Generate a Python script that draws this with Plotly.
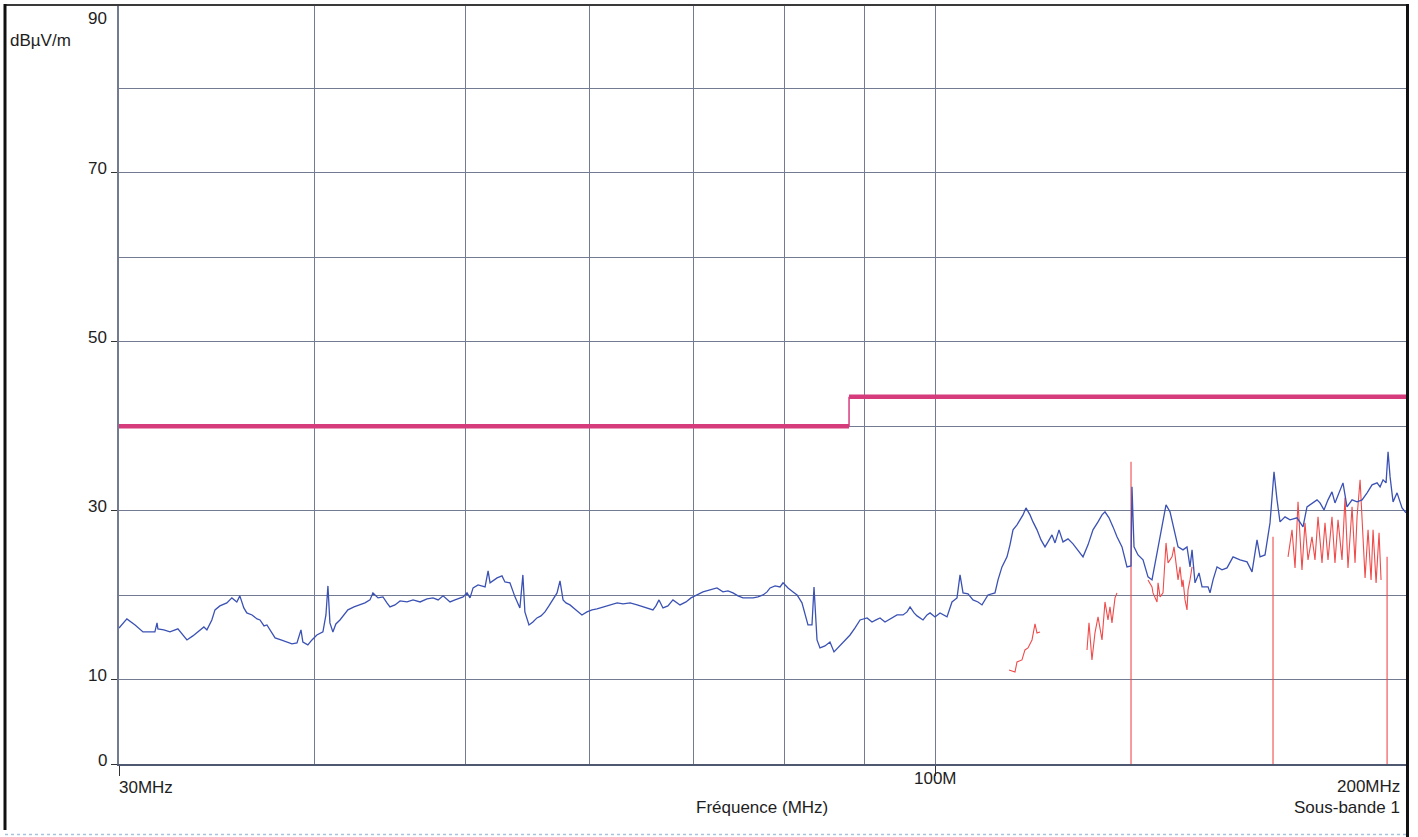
import math
import plotly.graph_objects as go

# ---------------- data ----------------
# Peak trace (blue): frequency in MHz, level in dBuV/m
peak_freq = [30.00, 30.35, 30.72, 31.08, 31.40, 31.63, 31.73, 31.77, 32.05, 32.34, 32.72, 33.16, 33.45, 33.80,
             34.00, 34.15, 34.40, 34.56, 34.81, 35.17, 35.43, 35.69, 35.85, 36.06, 36.22, 36.50, 36.77, 36.93,
             37.15, 37.31, 37.59, 37.76, 38.09, 38.43, 38.71, 39.00, 39.23, 39.34, 39.63, 39.87, 40.16, 40.52,
             40.70, 40.82, 40.94, 41.12, 41.30, 41.55, 41.80, 42.04, 42.42, 42.80, 43.11, 43.43, 43.62, 43.95,
             44.27, 44.53, 44.73, 45.06, 45.40, 45.87, 46.28, 46.76, 47.24, 47.66, 48.02, 48.37, 48.87, 49.23,
             49.60, 49.82, 50.11, 50.33, 50.56, 50.93, 51.46, 51.69, 51.84, 52.38, 52.76, 52.99, 53.38, 53.78,
             54.17, 54.41, 54.57, 54.90, 55.22, 55.55, 55.88, 56.21, 56.54, 56.88, 57.22, 57.47, 57.73, 57.98,
             58.32, 58.84, 59.36, 59.80, 60.25, 60.69, 61.24, 61.87, 62.52, 63.07, 63.73, 64.39, 64.96, 65.44,
             65.91, 66.20, 66.50, 66.89, 67.38, 67.88, 68.28, 68.59, 69.20, 69.71, 70.33, 70.95, 71.69, 72.43,
             73.07, 73.62, 74.16, 74.71, 75.26, 75.82, 76.39, 76.95, 77.52, 77.98, 78.33, 78.91, 79.49, 79.84,
             80.43, 81.03, 81.51, 82.10, 82.47, 82.83, 83.32, 83.57, 83.94, 84.31, 84.93, 85.56, 86.07, 86.83,
             87.47, 88.13, 88.78, 89.44, 90.37, 91.03, 91.57, 92.11, 92.79, 93.48, 94.45, 95.29, 95.85, 96.28,
             96.85, 97.28, 98.14, 98.72, 99.16, 99.89, 100.63, 101.67, 102.42, 103.18, 103.64, 104.10, 104.87,
             105.64, 106.42, 107.05, 107.53, 108.00, 109.12, 109.61, 110.25, 111.07, 111.56, 112.06, 112.72,
             113.22, 113.72, 114.22, 114.90, 115.41, 116.09, 116.78, 117.47, 117.99, 118.69, 119.22, 119.92,
             120.63, 121.52, 122.42, 123.33, 124.24, 125.16, 126.08, 127.02, 127.77, 128.33, 129.09, 129.86,
             130.62, 131.59, 132.56, 133.35, 133.54, 133.94, 134.73, 135.73, 136.73, 137.54, 138.56, 139.38,
             140.41, 141.24, 142.08, 142.92, 143.97, 144.82, 145.47, 145.90, 146.54, 147.41, 148.07, 149.38,
             149.82, 150.49, 151.37, 152.49, 153.62, 154.99, 156.60, 158.22, 159.39, 160.57, 161.28, 162.47,
             163.67, 164.64, 165.37, 166.10, 167.33, 168.57, 170.32, 171.83, 172.84, 174.12, 175.41, 176.19,
             177.23, 178.28, 179.33, 180.12, 181.46, 182.26, 183.34, 184.71, 186.08, 187.46, 188.85, 190.24,
             191.65, 192.50, 193.35, 194.21, 194.78, 195.36, 196.22, 197.38, 198.84, 200.00]
peak_level = [16.11, 17.18, 16.47, 15.64, 15.64, 15.64, 16.71, 16.00, 15.88, 15.64, 16.00, 14.69, 15.17, 15.88,
              16.23, 15.88, 17.06, 18.25, 18.72, 19.08, 19.67, 19.19, 19.91, 18.48, 17.89, 17.65, 17.18, 17.06,
              16.35, 16.47, 15.40, 14.93, 14.69, 14.45, 14.22, 14.34, 15.88, 14.45, 14.10, 14.69, 15.28, 15.64,
              17.65, 21.09, 16.71, 15.64, 16.59, 17.06, 17.65, 18.25, 18.60, 18.84, 19.08, 19.43, 20.26, 19.67,
              19.79, 19.08, 18.60, 18.84, 19.31, 19.19, 19.43, 19.19, 19.55, 19.67, 19.43, 19.91, 19.19, 19.43,
              19.67, 19.79, 20.26, 19.67, 20.85, 21.21, 20.97, 22.87, 21.45, 22.04, 22.27, 21.56, 21.45, 19.79,
              18.48, 22.39, 18.01, 16.47, 16.82, 17.30, 17.54, 18.01, 18.72, 19.43, 20.26, 21.68, 19.43, 19.08,
              18.84, 18.25, 17.65, 18.01, 18.25, 18.36, 18.60, 18.84, 19.08, 18.96, 19.08, 18.84, 18.60, 18.36,
              18.25, 18.72, 19.43, 18.48, 18.72, 19.43, 19.08, 18.84, 19.19, 19.67, 20.02, 20.38, 20.62, 20.85,
              20.38, 20.50, 20.26, 19.91, 19.67, 19.67, 19.67, 19.79, 20.02, 20.38, 20.85, 21.09, 20.97, 21.45,
              20.85, 20.38, 20.02, 19.08, 17.89, 16.47, 16.47, 20.97, 14.69, 13.74, 13.98, 14.45, 13.27, 13.98,
              14.69, 15.28, 16.11, 17.06, 17.30, 16.82, 17.06, 17.30, 16.82, 17.18, 17.65, 17.65, 18.01, 18.60,
              17.89, 17.54, 17.06, 17.65, 17.89, 17.42, 17.89, 17.42, 19.19, 19.67, 22.39, 20.26, 20.14,
              19.43, 19.19, 18.84, 19.43, 20.02, 20.26, 21.80, 23.34, 24.53, 25.95, 27.73, 28.32,
              28.91, 29.50, 30.33, 29.50, 28.67, 27.73, 26.54, 25.71, 26.30, 27.13, 26.18, 27.73,
              26.30, 26.66, 26.07, 25.36, 24.53, 25.95, 27.73, 28.67, 29.50, 29.86, 29.15, 28.08,
              26.90, 25.71, 23.34, 23.46, 32.82, 25.71, 24.76, 24.17, 22.16, 21.80, 25.00, 27.73,
              30.69, 29.86, 27.73, 25.71, 25.36, 25.71, 23.34, 25.36, 21.45, 22.63, 20.97, 20.97,
              20.26, 21.80, 23.34, 22.99, 23.22, 24.53, 24.17, 23.93, 22.75, 26.54, 24.53, 24.76,
              28.55, 34.60, 31.28, 28.67, 29.27, 28.91, 29.15, 28.08, 30.45, 30.92, 31.28, 30.92,
              30.09, 31.28, 32.23, 30.92, 32.46, 33.29, 30.45, 31.28, 31.04, 31.28, 32.11, 33.06,
              33.29, 32.82, 33.65, 33.29, 36.97, 34.00, 31.04, 32.11, 30.33, 29.74]

# Quasi-peak measurement segments (red)
qp1_freq = [111.40, 112.39, 112.72, 113.55, 114.05, 114.56, 115.24, 115.75, 116.09, 116.61]
qp1_level = [11.14, 10.90, 12.09, 12.32, 13.51, 13.74, 14.69, 16.59, 15.52, 15.64]
qp2_freq = [124.97, 125.34, 125.89, 126.45, 127.02, 127.77, 128.33, 128.90, 129.28, 129.66, 130.24, 130.62]
qp2_level = [13.51, 16.71, 12.32, 15.52, 17.42, 14.69, 19.19, 17.06, 18.60, 16.71, 19.67, 20.26]
qp3_freq = [136.73, 137.54, 137.74, 138.56, 138.77, 139.18, 139.79, 140.41, 140.83, 141.66, 142.08, 142.71,
            142.92, 143.34, 143.76, 143.97, 144.40, 144.82, 145.04, 145.47, 145.90]
qp3_level = [21.80, 20.97, 20.26, 19.19, 21.45, 19.79, 20.26, 26.18, 23.82, 24.53, 25.71, 22.99,
             21.80, 23.34, 20.97, 21.80, 19.43, 18.25, 20.62, 21.80, 23.34]
qp4_freq = [168.08, 169.07, 169.82, 170.57, 171.57, 172.33, 173.10, 174.12, 174.89, 175.67, 176.71, 177.49,
            178.28, 179.33, 180.12, 180.93, 182.00, 182.80, 183.61, 184.71, 185.53, 186.08, 186.91, 187.46,
            188.29, 189.12, 189.96, 190.52, 191.37, 192.21, 192.78]
qp4_level = [24.53, 27.73, 23.22, 31.04, 22.99, 28.55, 24.17, 26.90, 24.17, 29.27, 23.82, 28.55,
             24.17, 29.27, 23.82, 28.91, 24.17, 31.52, 23.22, 30.45, 23.82, 29.27, 33.65, 28.55,
             22.04, 27.73, 21.80, 27.73, 21.45, 27.37, 21.80]

# Discrete markers drawn as vertical lines from 0
spike_freq = [133.35, 164.40, 194.50]
spike_level = [35.78, 26.90, 24.53]

# Limit line (CISPR class B, 10 m)
limit_freq = [30, 88, 200]
limit_level = [40.0, 43.5]

x_tick_vals = [30, 100, 200]
x_tick_text = ["30MHz", "100M", "200MHz"]
x_grid_vals = [40, 50, 60, 70, 80, 90]
y_tick_vals = [0, 10, 30, 50, 70, 90]
y_grid_vals = [20, 40, 60, 80]

# ---------------- figure ----------------
FONT = "Liberation Sans, Arial, sans-serif"
GRID = "#727b92"
BLUE = "#3b52b4"
RED = "#f04b4b"
PINK = "#d63b7c"

fig = go.Figure()

# limit line: thick horizontal segments + thin step
fig.add_trace(go.Scatter(
    x=[limit_freq[0], limit_freq[1], None, limit_freq[1], limit_freq[2]],
    y=[limit_level[0], limit_level[0], None, limit_level[1], limit_level[1]],
    mode="lines", line=dict(color=PINK, width=4.5), hoverinfo="skip", showlegend=False))
fig.add_trace(go.Scatter(
    x=[limit_freq[1], limit_freq[1]], y=[limit_level[0], limit_level[1]],
    mode="lines", line=dict(color=PINK, width=1.5), hoverinfo="skip", showlegend=False))

# red QP segments
qx, qy = [], []
for fx, fy in [(qp1_freq, qp1_level), (qp2_freq, qp2_level), (qp3_freq, qp3_level), (qp4_freq, qp4_level)]:
    qx += fx + [None]
    qy += fy + [None]
fig.add_trace(go.Scatter(x=qx, y=qy, mode="lines", line=dict(color=RED, width=1.1),
                         hoverinfo="skip", showlegend=False))

sx, sy = [], []
for f, v in zip(spike_freq, spike_level):
    sx += [f, f, None]
    sy += [0, v, None]
fig.add_trace(go.Scatter(x=sx, y=sy, mode="lines", line=dict(color=RED, width=1.1),
                         hoverinfo="skip", showlegend=False))

# blue peak trace
fig.add_trace(go.Scatter(x=peak_freq, y=peak_level, mode="lines",
                         line=dict(color=BLUE, width=1.3), hoverinfo="skip", showlegend=False))

fig.update_xaxes(
    type="log", range=[math.log10(30), math.log10(200)],
    tickvals=x_tick_vals, ticks="outside", ticklen=10, tickcolor="#333", tickwidth=1,
    showticklabels=False, showgrid=True, gridcolor=GRID, gridwidth=1,
    minor=dict(tickvals=x_grid_vals, showgrid=True, gridcolor=GRID, gridwidth=1, ticks=""),
    showline=True, linecolor="#4e5870", linewidth=2, zeroline=False)
fig.update_yaxes(
    range=[0, 90], tickvals=y_tick_vals, ticks="outside", ticklen=6, tickcolor="#333", tickwidth=1,
    showticklabels=False, showgrid=True, gridcolor=GRID, gridwidth=1,
    minor=dict(tickvals=y_grid_vals, showgrid=True, gridcolor=GRID, gridwidth=1, ticks=""),
    showline=True, linecolor=GRID, linewidth=1.5, zeroline=False)

W, H = 1418, 837
L, R, T, B = 119, 12, 4, 73
pw, ph = W - L - R, H - T - B


def px(xp):
    return (xp - L) / pw


def py(yp):
    return (H - B - yp) / ph


ann = []
tf = dict(family=FONT, size=17, color="#1e1e1e")
for v in y_tick_vals:
    ann.append(dict(x=0, xref="paper", y=v, yref="y", text=str(v), showarrow=False,
                    xanchor="right", yanchor="middle", xshift=-10,
                    yshift=(-14 if v == 90 else 4), font=tf))
ann.append(dict(x=px(8), xref="paper", y=py(40), yref="paper", text="dBµV/m", showarrow=False,
                xanchor="left", yanchor="middle", font=tf))
ann.append(dict(x=0, xref="paper", y=py(787), yref="paper", text=x_tick_text[0], showarrow=False,
                xanchor="left", yanchor="middle", xshift=-2, font=tf))
ann.append(dict(x=math.log10(x_tick_vals[1]), xref="x", y=py(779), yref="paper", text=x_tick_text[1],
                showarrow=False, xanchor="center", yanchor="middle", font=tf))
ann.append(dict(x=1, xref="paper", y=py(786), yref="paper", text=x_tick_text[2], showarrow=False,
                xanchor="right", yanchor="middle", xshift=-4, font=tf))
ann.append(dict(x=px(761.5), xref="paper", y=py(807), yref="paper", text="Fréquence (MHz)",
                showarrow=False, xanchor="center", yanchor="middle", font=tf))
ann.append(dict(x=1, xref="paper", y=py(807), yref="paper", text="Sous-bande 1", showarrow=False,
                xanchor="right", yanchor="middle", xshift=-4, font=tf))

shapes = [
    dict(type="line", xref="paper", yref="paper", x0=px(5), x1=px(1407.5), y0=py(5), y1=py(5),
         line=dict(color="#3a3a3a", width=2)),
    dict(type="line", xref="paper", yref="paper", x0=px(5), x1=px(5), y0=py(4), y1=py(830),
         line=dict(color="#111", width=3)),
    dict(type="line", xref="paper", yref="paper", x0=px(1407.5), x1=px(1407.5), y0=py(4), y1=py(837),
         line=dict(color="#111", width=3)),
    dict(type="line", xref="paper", yref="paper", x0=px(5), x1=px(1406), y0=py(834.5), y1=py(834.5),
         line=dict(color="#a9c3dc", width=1.5, dash="dot")),
]

fig.update_layout(
    width=W, height=H, autosize=False,
    margin=dict(l=L, r=R, t=T, b=B, pad=0),
    paper_bgcolor="white", plot_bgcolor="white",
    showlegend=False, annotations=ann, shapes=shapes,
    font=tf,
)

fig.write_html("out.html")
